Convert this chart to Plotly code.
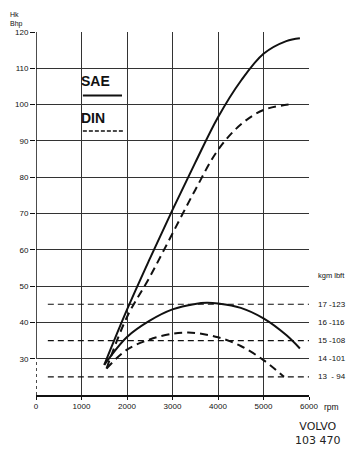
import plotly.graph_objects as go

# ---- data ----
rpm_sae_power = [1500, 2000, 2500, 3000, 3500, 4000, 4500, 5000, 5500, 5800]
sae_power = [28.3, 43.5, 57.5, 71, 84, 96.5, 106.5, 114, 117.5, 118.3]

rpm_din_power = [1550, 2000, 2500, 3000, 3500, 4000, 4500, 5000, 5550]
din_power = [27.3, 41.5, 52.5, 64.5, 76.5, 87.5, 94.5, 98.5, 100]

rpm_sae_torque = [1500, 2000, 2500, 3000, 3500, 3750, 4000, 4500, 5000, 5500, 5800]
sae_torque = [28.3, 36, 40.5, 43.6, 45.1, 45.4, 45.2, 44, 41.1, 36.5, 32.8]

rpm_din_torque = [1550, 2000, 2500, 3000, 3300, 3500, 4000, 4500, 5000, 5450]
din_torque = [27.3, 32.5, 35.3, 36.9, 37.2, 37.1, 35.9, 33.5, 29.6, 25]

ref_levels = [45, 35, 25]
ref_rpm_span = [260, 6090]

tq_levels = [45, 40, 35, 30, 25]
tq_kgm = ["17", "16", "15", "14", "13"]
tq_lbft = ["123", "116", "108", "101", "94"]
tq_header_level = 53

x_ticks = [0, 1000, 2000, 3000, 4000, 5000, 6000]
y_ticks = [30, 40, 50, 60, 70, 80, 90, 100, 110, 120]

X_RANGE = [0, 6000]
Y_RANGE = [20, 120]

FONT = "Liberation Sans, Arial, sans-serif"
INK = "#111111"


def px_x(v):
    return (v - X_RANGE[0]) / (X_RANGE[1] - X_RANGE[0])


def px_y(v):
    return (v - Y_RANGE[0]) / (Y_RANGE[1] - Y_RANGE[0])


fig = go.Figure()

for lvl in ref_levels:
    fig.add_trace(go.Scatter(x=ref_rpm_span, y=[lvl, lvl], mode="lines",
                             line=dict(color=INK, width=1.2, dash="6px,4px"),
                             hoverinfo="skip", showlegend=False, cliponaxis=False))

fig.add_trace(go.Scatter(x=rpm_sae_power, y=sae_power, mode="lines",
                         line=dict(color=INK, width=2, shape="spline"), showlegend=False))
fig.add_trace(go.Scatter(x=rpm_din_power, y=din_power, mode="lines",
                         line=dict(color=INK, width=2, shape="spline", dash="8px,5px"), showlegend=False))
fig.add_trace(go.Scatter(x=rpm_sae_torque, y=sae_torque, mode="lines",
                         line=dict(color=INK, width=2, shape="spline"), showlegend=False))
fig.add_trace(go.Scatter(x=rpm_din_torque, y=din_torque, mode="lines",
                         line=dict(color=INK, width=2, shape="spline", dash="8px,5px"), showlegend=False))

# legend-like labels
fig.add_annotation(x=950, y=106.5, xref="x", yref="y", text="<b>SAE</b>", showarrow=False,
                   xanchor="left", yanchor="middle", font=dict(family=FONT, size=14, color=INK))
fig.add_shape(type="line", x0=1030, x1=1890, y0=102.5, y1=102.5, xref="x", yref="y",
              line=dict(color=INK, width=2))
fig.add_annotation(x=950, y=96.2, xref="x", yref="y", text="<b>DIN</b>", showarrow=False,
                   xanchor="left", yanchor="middle", font=dict(family=FONT, size=14, color=INK))
fig.add_shape(type="line", x0=1030, x1=1910, y0=92.7, y1=92.7, xref="x", yref="y",
              line=dict(color=INK, width=1.5, dash="4px,2px"))

# torque scale labels on right (paper coords so they are not hidden off-range)
lab_x = px_x(6150)
fig.add_annotation(x=lab_x, y=px_y(tq_header_level), xref="paper", yref="paper",
                   text="kgm lbft", showarrow=False,
                   xanchor="left", yanchor="middle", font=dict(family=FONT, size=7.5, color=INK))
for lvl, k, l in zip(tq_levels, tq_kgm, tq_lbft):
    txt = f"{k} -{l}" if len(l) == 3 else f"{k}  - {l}"
    fig.add_annotation(x=lab_x, y=px_y(lvl), xref="paper", yref="paper", text=txt, showarrow=False,
                       xanchor="left", yanchor="middle", font=dict(family=FONT, size=8, color=INK))

# axis captions
fig.add_annotation(x=1.048, y=-0.033, xref="paper", yref="paper", text="rpm", showarrow=False,
                   xanchor="left", yanchor="middle", font=dict(family=FONT, size=8.5, color=INK))
fig.add_annotation(x=-0.103, y=1.064, xref="paper", yref="paper", text="Hk<br>Bhp", showarrow=False,
                   xanchor="left", yanchor="top", align="left",
                   font=dict(family=FONT, size=7, color=INK))
fig.add_annotation(x=1.033, y=-0.105, xref="paper", yref="paper", text="VOLVO<br>103 470",
                   showarrow=False, xanchor="center", yanchor="middle", align="center",
                   font=dict(family="DejaVu Sans, sans-serif", size=11, color="#222"))

# left axis: solid above 30, dotted below
fig.add_shape(type="line", x0=0, x1=0, y0=30, y1=120, xref="x", yref="y",
              line=dict(color=INK, width=1.5))
fig.add_shape(type="line", x0=0, x1=0, y0=20, y1=30, xref="x", yref="y",
              line=dict(color="white", width=3))
fig.add_shape(type="line", x0=0, x1=0, y0=20, y1=30, xref="x", yref="y",
              line=dict(color=INK, width=1.5, dash="dot"))

# page body has an 8px default margin, so the figure is sized to the visible area
fig.update_layout(
    width=349, height=444,
    margin=dict(l=28, r=48, t=24, b=57, autoexpand=False),
    paper_bgcolor="white", plot_bgcolor="white",
    font=dict(family=FONT, size=8, color=INK),
    showlegend=False,
)
fig.update_xaxes(range=X_RANGE, tickvals=x_ticks, ticktext=[str(v) for v in x_ticks],
                 showgrid=True, gridcolor="#333", gridwidth=1, zeroline=False,
                 showline=True, linecolor=INK, linewidth=1.5,
                 ticks="outside", ticklen=3, tickcolor=INK, automargin=False,
                 tickfont=dict(family=FONT, size=8, color=INK))
fig.update_yaxes(range=Y_RANGE, tickvals=y_ticks, ticktext=[str(v) for v in y_ticks],
                 showgrid=True, gridcolor="#333", gridwidth=1, zeroline=False,
                 showline=False, ticks="outside", ticklen=5, tickcolor=INK, automargin=False,
                 tickfont=dict(family=FONT, size=8, color=INK))

fig.write_html("out.html")
